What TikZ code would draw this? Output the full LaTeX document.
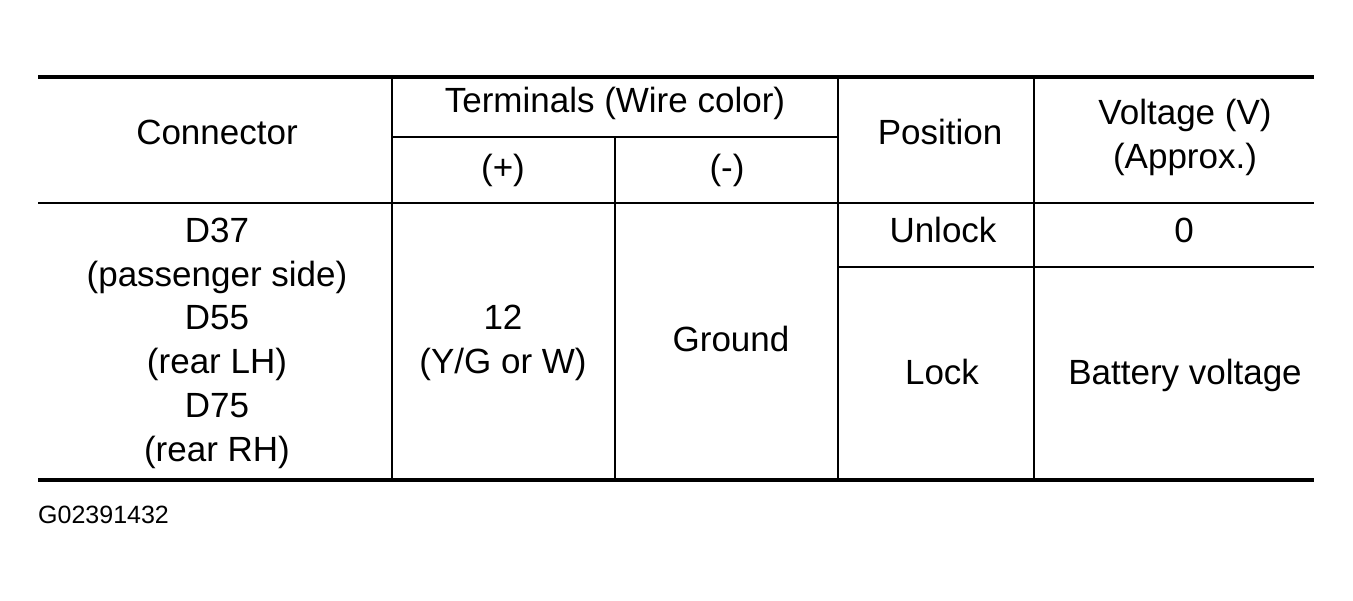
\documentclass[tikz,border=0pt]{standalone}
\usepackage{fontspec}
\setmainfont{Liberation Sans}
\usepackage{tikz}

\begin{document}
\begin{tikzpicture}[x = 1pt, y = -1pt, heavy/.style = {line width = 4pt}, mid/.style = {line width = 2.4pt}, thin rule/.style = {line width = 1.6pt}, every node/.style = {inner sep = 0pt, anchor = base, font = \fontsize{35}{44}\selectfont}]
    \useasboundingbox (0, 0) rectangle (1353, 601);
    % horizontal rules
    \draw[heavy] (38, 77) -- (1314, 77);
    \draw[thin rule] (392, 137) -- (838, 137);
    \draw[mid] (38, 203) -- (1314, 203);
    \draw[thin rule] (838, 267) -- (1314, 267);
    \draw[heavy] (38, 480) -- (1314, 480);
    % vertical rules
    \draw[thin rule] (392, 77) -- (392, 480);
    \draw[thin rule] (615, 137) -- (615, 480);
    \draw[thin rule] (838, 77) -- (838, 480);
    \draw[thin rule] (1034, 77) -- (1034, 480);
    % header
    \node (hconn) at (217, 145)   {Connector};
    \node (hterm) at (615, 113)   {Terminals (Wire color)};
    \node (hplus) at (503, 180)   {(+)};
    \node (hminus) at (727, 180)   {(-)};
    \node (hpos) at (940, 145)   {Position};
    \node (hvolt) at (1185, 125)   {Voltage (V)};
    \node (happrox) at (1185, 169)   {(Approx.)};
    % body
    \node (c1) at (217, 243)   {D37};
    \node (c2) at (217, 287)   {(passenger side)};
    \node (c3) at (217, 330)   {D55};
    \node (c4) at (217, 374)   {(rear LH)};
    \node (c5) at (217, 418)   {D75};
    \node (c6) at (217, 462)   {(rear RH)};
    \node (plus1) at (503, 330)   {12};
    \node (plus2) at (503, 374)   {(Y/G or W)};
    \node (minus) at (731, 352)   {Ground};
    \node (unlock) at (943, 243)   {Unlock};
    \node (vunlock) at (1184, 243)   {0};
    \node (lock) at (942, 385)   {Lock};
    \node (vlock) at (1185, 385)   {Battery voltage};
    \node[anchor = base west, font = \fontsize{25}{30}\selectfont] (fig) at (38, 524)   {G02391432};
\end{tikzpicture}
\end{document}
